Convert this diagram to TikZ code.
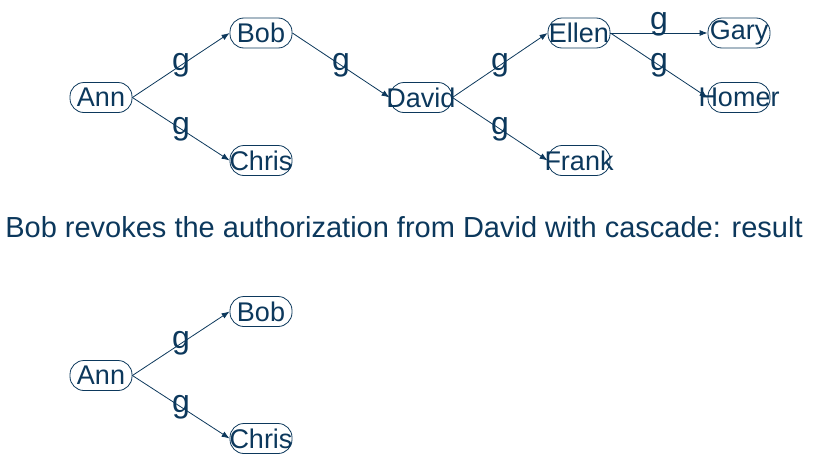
\documentclass[tikz,border=0pt]{standalone}
\usepackage{fontspec}
\setmainfont{Liberation Sans}
\usetikzlibrary{arrows.meta}
\definecolor{ink}{RGB}{12,56,92}
\begin{document}
\begin{tikzpicture}[x=1pt,y=-1pt,
  person/.style={draw=ink, text=ink, line width=0.8pt, rounded corners=14pt,
    minimum width=62pt, minimum height=30pt, inner sep=0pt,
    font=\fontsize{27}{27}\selectfont},
  grant/.style={draw=ink, line width=0.8pt, -{Latex[length=8pt,width=6pt]}},
  glab/.style={text=ink, inner sep=0pt, font=\fontsize{32}{32}\selectfont},
  caption/.style={text=ink, inner sep=0pt, font=\fontsize{29}{29}\selectfont}]
\useasboundingbox (0,0) rectangle (813,463);
\newcommand{\nm}[1]{\makebox[0pt]{#1}}
% top graph
\node[person] (ann) at (101,97.5) {\nm{Ann}};
\node[person] (bob) at (261,33) {\nm{Bob}};
\node[person] (chris) at (261,160.5) {\nm{Chris}};
\node[person] (david) at (421,97.5) {\nm{David}};
\node[person] (ellen) at (579,33) {\nm{Ellen}};
\node[person] (frank) at (579,160.5) {\nm{Frank}};
\node[person] (gary) at (739,33) {\nm{Gary}};
\node[person] (homer) at (739,97.5) {\nm{Homer}};
\draw[grant] (ann.east) -- node[glab] {g} (bob.west);
\draw[grant] (ann.east) -- node[glab] {g} (chris.west);
\draw[grant] (bob.east) -- node[glab] {g} (david.west);
\draw[grant] (david.east) -- node[glab] {g} (ellen.west);
\draw[grant] (david.east) -- node[glab] {g} (frank.west);
\draw[grant] (ellen.east) -- node[glab, above=-4pt] {g} (gary.west);
\draw[grant] (ellen.east) -- node[glab] {g} (homer.west);
% caption
\node[caption] (cap) at (404,227) {Bob revokes the authorization from David with cascade: result};
% bottom graph
\node[person] (ann2) at (101,375.5) {\nm{Ann}};
\node[person] (bob2) at (261,311.5) {\nm{Bob}};
\node[person] (chris2) at (261,438.5) {\nm{Chris}};
\draw[grant] (ann2.east) -- node[glab] {g} (bob2.west);
\draw[grant] (ann2.east) -- node[glab] {g} (chris2.west);
\end{tikzpicture}
\end{document}
